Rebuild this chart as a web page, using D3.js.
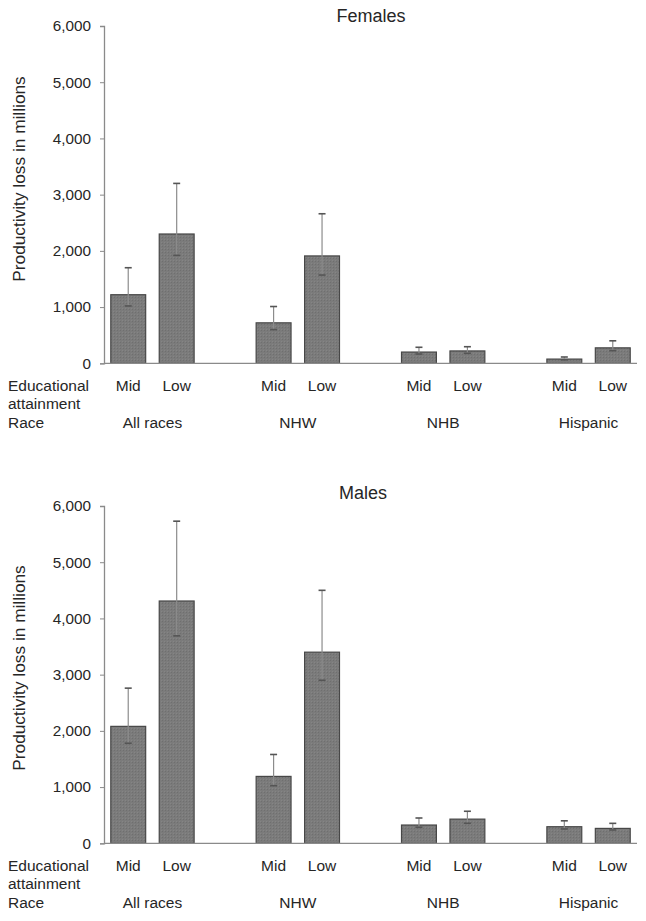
<!DOCTYPE html>
<html>
<head>
<meta charset="utf-8">
<script src="https://cdn.jsdelivr.net/npm/d3@7"></script>
<style>
  body { margin: 0; background: #fff; }
  svg { display: block; font-family: "Liberation Sans", Arial, sans-serif; }
</style>
</head>
<body>
<svg id="chart" width="646" height="921"></svg>
<script>
// ---- data ----
const races = ["All races", "NHW", "NHB", "Hispanic"];
const levels = ["Mid", "Low"];
const yTicks = [0, 1000, 2000, 3000, 4000, 5000, 6000];

// Females
const femaleValues = [1220, 2300, 720, 1910, 200, 220, 75, 275];
const femaleLower  = [1020, 1920, 600, 1570, 165, 178, 62, 225];
const femaleUpper  = [1700, 3200, 1010, 2660, 285, 295, 112, 400];

// Males
const maleValues = [2080, 4310, 1190, 3400, 325, 430, 295, 265];
const maleLower  = [1780, 3690, 1025, 2900, 285, 356, 255, 237];
const maleUpper  = [2760, 5730, 1580, 4500, 450, 570, 400, 355];

const panels = [
  { title: "Females", values: femaleValues, lower: femaleLower, upper: femaleUpper, top: 26, bottom: 363.3, titleX: 371, titleY: 22, labelY: 179 },
  { title: "Males", values: maleValues, lower: maleLower, upper: maleUpper, top: 506, bottom: 843.3, titleX: 363, titleY: 499, labelY: 668 }
];

const svg = d3.select("#chart");

const defs = svg.append("defs");
const pat = defs.append("pattern").attr("id", "hatch").attr("patternUnits", "userSpaceOnUse")
  .attr("width", 3).attr("height", 3);
pat.append("rect").attr("width", 3).attr("height", 3).attr("fill", "#7b7b7b");
pat.append("rect").attr("width", 1).attr("height", 1).attr("fill", "#6f6f6f");
pat.append("rect").attr("x", 2).attr("y", 2).attr("width", 1).attr("height", 1).attr("fill", "#858585");

// slot indices for the 8 bars (gaps between race groups)
const slots = d3.range(11).map(String);
const barSlot = [0, 1, 3, 4, 6, 7, 9, 10];
const x = d3.scaleBand().domain(slots).range([104, 637]).paddingInner(0.28).paddingOuter(0.14);

const font = "\"Liberation Sans\", Arial, sans-serif";
const txt = "#262626";

panels.forEach(p => {
  const y = d3.scaleLinear().domain([0, 6000]).range([p.bottom, p.top]);
  const g = svg.append("g");

  // title
  g.append("text").attr("x", p.titleX).attr("y", p.titleY).attr("text-anchor", "middle")
    .attr("font-size", 18).attr("fill", txt).text(p.title);

  // y axis
  const yAxis = d3.axisLeft(y).tickValues(yTicks).tickSize(4).tickPadding(9)
    .tickFormat(d3.format(","));
  const ya = g.append("g").attr("transform", "translate(104,0)").call(yAxis);
  ya.select(".domain").attr("stroke", "#8a8a8a").attr("stroke-width", 1.3);
  ya.selectAll(".tick line").attr("stroke", "#8a8a8a");
  ya.selectAll(".tick text").attr("font-size", 15.3).attr("fill", txt).attr("font-family", font);

  // y label
  g.append("text")
    .attr("transform", `translate(25,${p.labelY}) rotate(-90)`)
    .attr("text-anchor", "middle").attr("font-size", 17.3).attr("fill", txt)
    .text("Productivity loss in millions");

  // bars
  const data = p.values.map((v, i) => ({ v, lo: p.lower[i], hi: p.upper[i], slot: String(barSlot[i]), level: levels[i % 2] }));
  g.selectAll("rect.bar").data(data).enter().append("rect").attr("class", "bar")
    .attr("x", d => x(d.slot)).attr("width", x.bandwidth())
    .attr("y", d => y(d.v)).attr("height", d => y(0) - y(d.v))
    .attr("fill", "url(#hatch)").attr("stroke", "#474747").attr("stroke-width", 1.2);

  // x axis baseline
  g.append("line").attr("x1", 104).attr("x2", 637).attr("y1", y(0)).attr("y2", y(0))
    .attr("stroke", "#8a8a8a").attr("stroke-width", 1.3);

  // error bars
  const eb = g.selectAll("g.err").data(data).enter().append("g").attr("class", "err");
  const cx = d => x(d.slot) + x.bandwidth() / 2;
  eb.append("line").attr("x1", cx).attr("x2", cx).attr("y1", d => y(d.hi)).attr("y2", d => y(d.lo))
    .attr("stroke", "#8c8c8c").attr("stroke-width", 1.2);
  eb.append("line").attr("x1", d => cx(d) - 3.5).attr("x2", d => cx(d) + 3.5)
    .attr("y1", d => y(d.hi)).attr("y2", d => y(d.hi)).attr("stroke", "#555").attr("stroke-width", 1.6);
  eb.append("line").attr("x1", d => cx(d) - 3.5).attr("x2", d => cx(d) + 3.5)
    .attr("y1", d => y(d.lo)).attr("y2", d => y(d.lo)).attr("stroke", "#555").attr("stroke-width", 1.6);

  // category labels
  const baseY = p.bottom;
  g.selectAll("text.lvl").data(data).enter().append("text").attr("class", "lvl")
    .attr("x", cx).attr("y", baseY + 27.5).attr("text-anchor", "middle")
    .attr("font-size", 15.5).attr("fill", txt).text(d => d.level);

  g.append("text").attr("x", 8).attr("y", baseY + 27.5).attr("font-size", 15.5).attr("fill", txt).text("Educational");
  g.append("text").attr("x", 8).attr("y", baseY + 46).attr("font-size", 15.5).attr("fill", txt).text("attainment");
  g.append("text").attr("x", 8).attr("y", baseY + 65).attr("font-size", 15.5).attr("fill", txt).text("Race");

  g.selectAll("text.race").data(races).enter().append("text").attr("class", "race")
    .attr("x", (d, i) => {
      const a = x(String(barSlot[i * 2])), b = x(String(barSlot[i * 2 + 1])) + x.bandwidth();
      return (a + b) / 2;
    })
    .attr("y", baseY + 65).attr("text-anchor", "middle")
    .attr("font-size", 15.5).attr("fill", txt).text(d => d);
});
</script>
</body>
</html>
